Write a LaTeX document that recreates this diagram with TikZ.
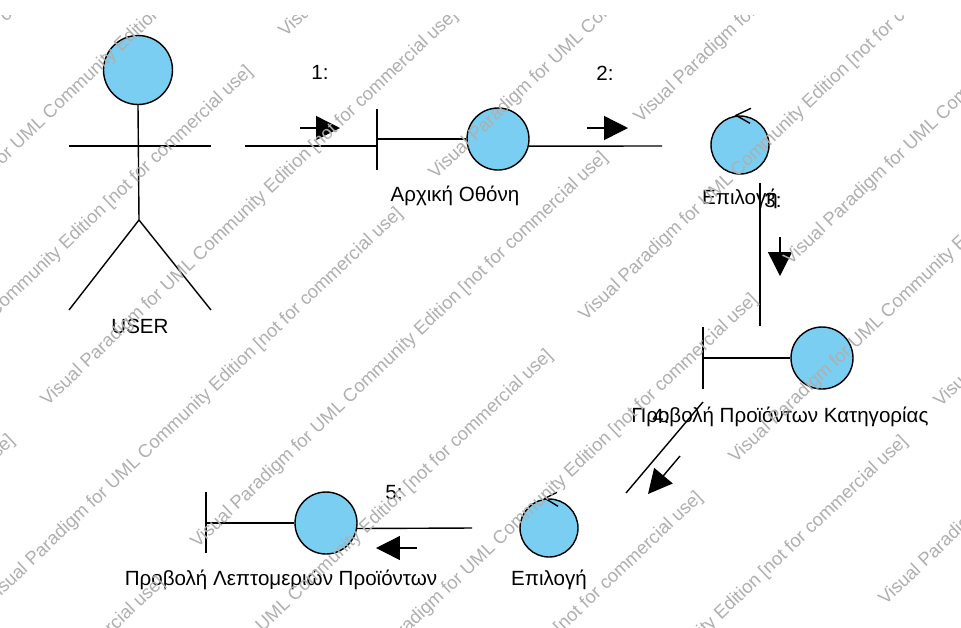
\documentclass[tikz,border=0pt]{standalone}
\usepackage{fontspec}
\setmainfont{Liberation Sans}
\usetikzlibrary{arrows.meta}
\definecolor{objblue}{RGB}{122,206,242}
\definecolor{wmgray}{RGB}{175,175,175}
\begin{document}
\begin{tikzpicture}[x=0.02cm,y=-0.02cm,
  line width=0.8pt,
  obj/.style={circle,draw=black,fill=objblue,minimum size=1.24cm,inner sep=0},
  ctl/.style={obj,minimum size=1.16cm},
  lbl/.style={font=\fontsize{11.7}{13}\selectfont,inner sep=0},
  msg/.style={-{Triangle[length=0.48cm,width=0.48cm]}},
  wm/.style={font=\fontsize{10.5}{12}\selectfont,text=wmgray,rotate=43.5,anchor=base west,inner sep=0}
]
\fill[white] (0,0) rectangle (961,627);
\useasboundingbox (0,0) rectangle (961,627);

% ---- actor USER
\node[obj,minimum size=1.38cm] (userhead) at (138,70) {};
\coordinate (hip) at (139,220);
\coordinate (armL) at (69,146);
\coordinate (armR) at (211,146);
\coordinate (footL) at (69,310);
\coordinate (footR) at (211,310);
\draw (userhead.south) -- (hip) -- (footL);
\draw (hip) -- (footR);
\draw (armL) -- (armR);
\node[lbl] (userlbl) at (140,326) {USER};

% ---- boundary: Arxiki Othoni
\coordinate (b1top) at (377,109);
\coordinate (b1bot) at (377,170);
\node[obj] (c1) at (498,139) {};
\draw (b1top) -- (b1bot);
\draw (c1.west) -- (c1.west -| b1top);
\node[lbl] (l1) at (455,196) {Αρχική Οθόνη};

% message 1
\coordinate (m1s) at (245,146);
\draw (m1s) -- (m1s -| b1top);
\coordinate (a1s) at (300,128);
\coordinate (a1e) at (340,128);
\draw[msg] (a1s) -- (a1e);
\node[lbl] (n1) at (320,72) {1:};

% ---- control: Epilogi (top)
\node[ctl] (c2) at (740,145) {};
\draw (c2.north) ++(11,-7) -- ++(-15,7) -- ++(14,8);
\node[lbl] (l2) at (740,199) {Επιλογή};

% message 2
\coordinate (m2e) at (662,146);
\draw (c1.-13) -- (m2e);
\coordinate (a2s) at (587,128);
\coordinate (a2e) at (628,128);
\draw[msg] (a2s) -- (a2e);
\node[lbl] (n2) at (605,73) {2:};

% message 3
\coordinate (m3s) at (760,183);
\coordinate (m3e) at (760,326);
\draw (m3s) -- (m3e);
\coordinate (a3s) at (780,237);
\coordinate (a3e) at (780,276);
\draw[msg] (a3s) -- (a3e);
\node[lbl] (n3) at (773,200) {3:};

% ---- boundary: Provoli Proionton Kategorias
\coordinate (b3top) at (703,327);
\coordinate (b3bot) at (703,389);
\node[obj] (c3) at (822,358) {};
\draw (b3top) -- (b3bot);
\draw (c3.west) -- (c3.west -| b3top);
\node[lbl] (l3) at (780,417) {Προβολή Προϊόντων Κατηγορίας};

% message 4
\coordinate (m4s) at (703,402);
\coordinate (m4e) at (626,493);
\draw (m4s) -- (m4e);
\coordinate (a4s) at (680,456);
\coordinate (a4e) at (648,494);
\draw[msg] (a4s) -- (a4e);
\node[lbl] (n4) at (661,416) {4:};

% ---- control: Epilogi (bottom)
\node[ctl] (c4) at (549,528) {};
\draw (c4.north) ++(8,-6) -- ++(-12,6) -- ++(13,8);
\node[lbl] (l4) at (549,580) {Επιλογή};

% ---- boundary: Provoli Leptomerion Proionton
\coordinate (b5top) at (206,492);
\coordinate (b5bot) at (206,553);
\node[obj] (c5) at (326,523) {};
\draw (b5top) -- (b5bot);
\draw (c5.west) -- (c5.west -| b5top);
\node[lbl] (l5) at (281,580) {Προβολή Λεπτομεριών Προϊόντων};

% message 5
\coordinate (m5s) at (472,528);
\draw (m5s) -- (c5.-10);
\coordinate (a5s) at (417,548);
\coordinate (a5e) at (376,548);
\draw[msg] (a5s) -- (a5e);
\node[lbl] (n5) at (394,493) {5:};

% ---- watermark
\begin{scope}
\clip (0,15) rectangle (961,627);
\foreach \i in {-4,...,5}{
  \foreach \m in {-2,...,3}{
    \node[wm] at ({285+150*\i+443*\m},{38+142*\i-425*\m}) {Visual Paradigm for UML Community Edition [not for commercial use]};
    \node[wm] at ({47+150*\i+443*\m},{407+142*\i-425*\m}) {Visual Paradigm for UML Community Edition [not for commercial use]};
  }
}
\end{scope}
\end{tikzpicture}
\end{document}
